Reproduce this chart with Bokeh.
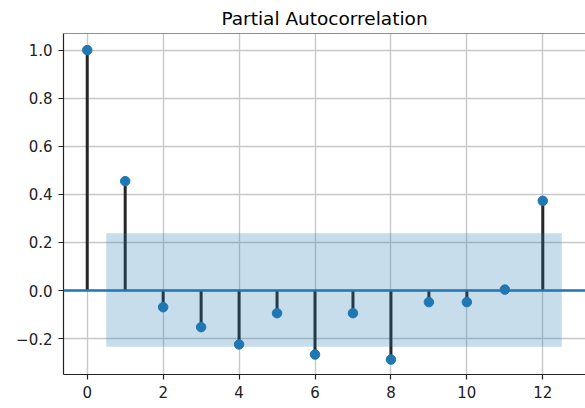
from bokeh.plotting import figure
from bokeh.models import Range1d, FixedTicker, Span
from bokeh.embed import file_html
from bokeh.resources import INLINE

# ---- data ----
lags = [0, 1, 2, 3, 4, 5, 6, 7, 8, 9, 10, 11, 12]
pacf = [1.0, 0.455, -0.069, -0.152, -0.224, -0.094, -0.266, -0.094, -0.287,
        -0.048, -0.048, 0.004, 0.373]
conf_lower = -0.234
conf_upper = 0.238
x_ticks = [0, 2, 4, 6, 8, 10, 12]
y_ticks = [-0.2, 0.0, 0.2, 0.4, 0.6, 0.8, 1.0]
y_tick_labels = ["\u22120.2", "0.0", "0.2", "0.4", "0.6", "0.8", "1.0"]
title = "Partial Autocorrelation"

C0 = "#1f77b4"
FONT = "DejaVu Sans"
Y_END = 1.069

p = figure(width=585, height=408, output_backend="svg", toolbar_location=None,
           x_range=Range1d(-0.625, 13.125), y_range=Range1d(-0.349, Y_END),
           min_border_left=63, min_border_right=0, min_border_top=33,
           min_border_bottom=34, title=title)
p.outline_line_color = None
p.background_fill_color = "white"
p.border_fill_color = "white"

p.title.text_font = FONT
p.title.text_font_size = "18.5px"
p.title.text_font_style = "normal"
p.title.align = "center"
p.title.text_color = "#000000"

# grid
for g in (p.xgrid, p.ygrid):
    g.grid_line_color = "#c8c8c8"
    g.grid_line_width = 1.4
p.xaxis.ticker = FixedTicker(ticks=x_ticks)
p.yaxis.ticker = FixedTicker(ticks=y_ticks)
p.yaxis.major_label_overrides = {t: l for t, l in zip(y_ticks, y_tick_labels)}

for ax in (p.xaxis, p.yaxis):
    ax.axis_line_color = "#222222"
    ax.axis_line_width = 1.2
    ax.major_tick_line_color = "#222222"
    ax.major_tick_line_width = 1.2
    ax.major_tick_out = 5
    ax.major_tick_in = 0
    ax.minor_tick_line_color = None
    ax.major_label_text_font = FONT
    ax.major_label_text_font_size = "15px"
    ax.major_label_text_color = "#222222"
    ax.major_label_standoff = 6

# top spine
p.add_layout(Span(location=Y_END, dimension="width", line_color="#222222",
                  line_width=1.2))

# stems
p.segment(x0=lags, y0=[0] * len(lags), x1=lags, y1=pacf,
          line_color="#262626", line_width=3)
# markers
p.scatter(lags, pacf, size=9.5, fill_color=C0, line_color=C0)
# zero line
p.add_layout(Span(location=0, dimension="width", line_color=C0, line_width=2.4))

# confidence band (lag 0 skipped, ends extended by half a lag)
band_x = [float(v) for v in lags[1:]]
band_x[0] -= 0.5
band_x[-1] += 0.5
p.varea(x=band_x, y1=[conf_lower] * len(band_x), y2=[conf_upper] * len(band_x),
        fill_color=C0, fill_alpha=0.25)

open("out.html", "w").write(file_html(p, INLINE))
